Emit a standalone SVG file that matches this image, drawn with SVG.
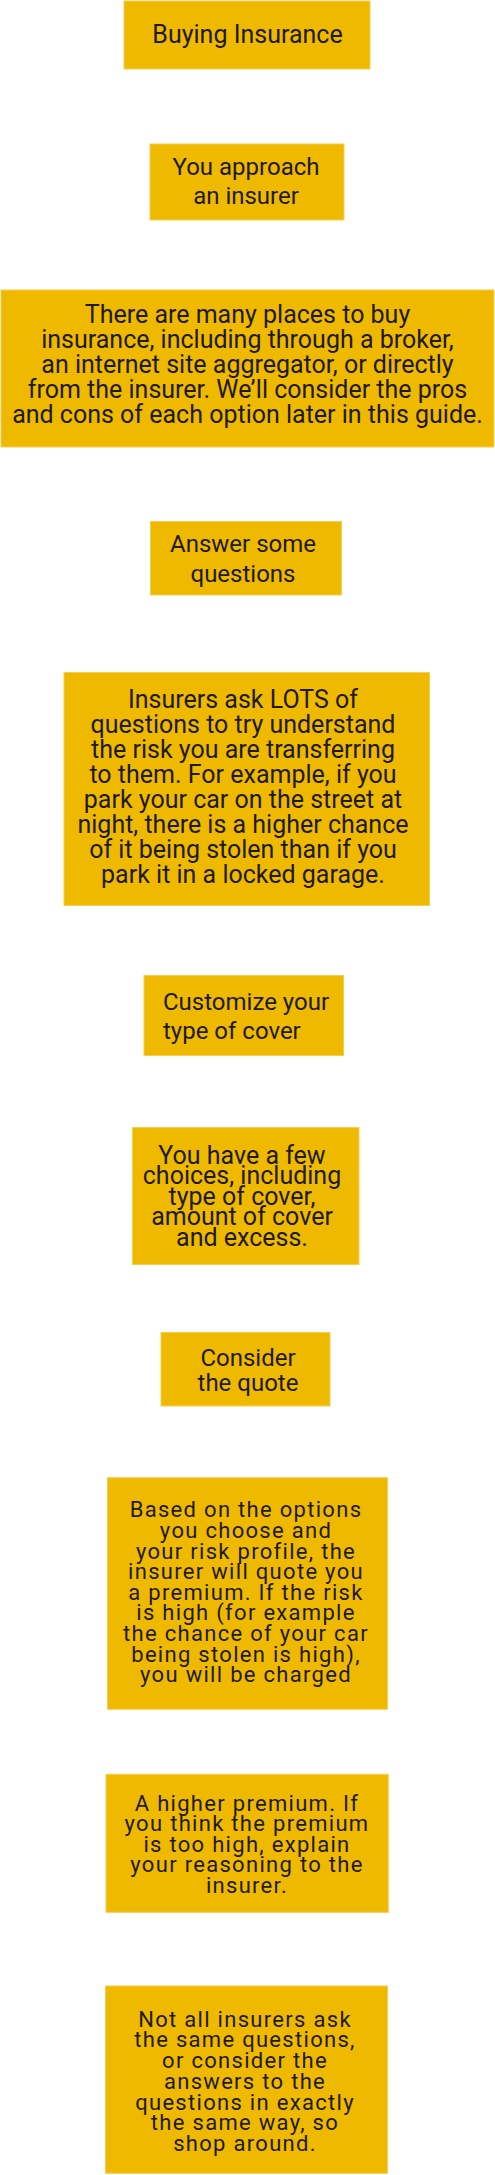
<svg xmlns="http://www.w3.org/2000/svg" width="495" height="2175" viewBox="0 0 495 2175">
<style>
.box{fill:#EFB900;stroke:#F4CD55;stroke-width:1}
text{font-family:Roboto,"Liberation Sans",sans-serif;fill:#1E1A16;text-anchor:middle}
.f25{font-size:25px}
.f24{font-size:24px}
.f22{font-size:22px;letter-spacing:1.3px}
.left{text-anchor:start}
</style>
<rect width="495" height="2175" fill="#FFFFFF"/>
<g id="connectors"/>
<g id="n1">
<rect class="box" x="124" y="1" width="246" height="68"/>
<text class="f25" x="247.5" y="43.3">Buying Insurance</text>
</g>
<g id="n2">
<rect class="box" x="150" y="144" width="194" height="76"/>
<text class="f24" x="246" y="175">You approach</text>
<text class="f24" x="246" y="204">an insurer</text>
</g>
<g id="n3">
<rect class="box" x="1" y="290" width="493" height="157"/>
<text class="f25" x="247.5" y="323.3">There are many places to buy</text>
<text class="f25" x="247.5" y="348.3">insurance, including through a broker,</text>
<text class="f25" x="247.5" y="373.3">an internet site aggregator, or directly</text>
<text class="f25" x="247.5" y="398.3">from the insurer. We’ll consider the pros</text>
<text class="f25" x="247.5" y="423.3">and cons of each option later in this guide.</text>
</g>
<g id="n4">
<rect class="box" x="150.5" y="521.5" width="191" height="73.5"/>
<text class="f24" x="243" y="551.7">Answer some</text>
<text class="f24" x="243" y="581.7">questions</text>
</g>
<g id="n5">
<rect class="box" x="64" y="672.5" width="365.5" height="233"/>
<text class="f25" x="243" y="708.3">Insurers ask LOTS of</text>
<text class="f25" x="243" y="733.3">questions to try understand</text>
<text class="f25" x="243" y="758.3">the risk you are transferring</text>
<text class="f25" x="243" y="783.3">to them. For example, if you</text>
<text class="f25" x="243" y="808.3">park your car on the street at</text>
<text class="f25" x="243" y="833.3">night, there is a higher chance</text>
<text class="f25" x="243" y="858.3">of it being stolen than if you</text>
<text class="f25" x="243" y="883.3">park it in a locked garage.</text>
</g>
<g id="n6">
<rect class="box" x="144" y="975.5" width="199.5" height="80"/>
<text class="f24 left" x="163" y="1010">Customize your</text>
<text class="f24 left" x="163" y="1039.3">type of cover</text>
</g>
<g id="n7">
<rect class="box" x="132.5" y="1127.5" width="226.5" height="137"/>
<text class="f25" x="242" y="1163.5">You have a few</text>
<text class="f25" x="242" y="1184.1">choices, including</text>
<text class="f25" x="242" y="1204.7">type of cover,</text>
<text class="f25" x="242" y="1225.3">amount of cover</text>
<text class="f25" x="242" y="1245.9">and excess.</text>
</g>
<g id="n8">
<rect class="box" x="161" y="1332.5" width="169" height="73.5"/>
<text class="f24" x="248" y="1365.7">Consider</text>
<text class="f24" x="248" y="1390.7">the quote</text>
</g>
<g id="n9">
<rect class="box" x="107.5" y="1477.7" width="280" height="231.6"/>
<text class="f22" x="246" y="1517.3">Based on the options</text>
<text class="f22" x="246" y="1537.9">you choose and</text>
<text class="f22" x="246" y="1558.5">your risk profile, the</text>
<text class="f22" x="246" y="1579.1">insurer will quote you</text>
<text class="f22" x="246" y="1599.7">a premium. If the risk</text>
<text class="f22" x="246" y="1620.3">is high (for example</text>
<text class="f22" x="246" y="1640.9">the chance of your car</text>
<text class="f22" x="246" y="1661.5">being stolen is high),</text>
<text class="f22" x="246" y="1682.1">you will be charged</text>
</g>
<g id="n10">
<rect class="box" x="106" y="1774.3" width="282.3" height="138"/>
<text class="f22" x="247" y="1811">A higher premium. If</text>
<text class="f22" x="247" y="1831.4">you think the premium</text>
<text class="f22" x="247" y="1851.8">is too high, explain</text>
<text class="f22" x="247" y="1872.2">your reasoning to the</text>
<text class="f22" x="247" y="1892.6">insurer.</text>
</g>
<g id="n11">
<rect class="box" x="105.5" y="1986" width="282" height="187.3"/>
<text class="f22" x="245" y="2026.7">Not all insurers ask</text>
<text class="f22" x="245" y="2047.45">the same questions,</text>
<text class="f22" x="245" y="2068.2">or consider the</text>
<text class="f22" x="245" y="2088.95">answers to the</text>
<text class="f22" x="245" y="2109.7">questions in exactly</text>
<text class="f22" x="245" y="2130.45">the same way, so</text>
<text class="f22" x="245" y="2151.2">shop around.</text>
</g>
</svg>
